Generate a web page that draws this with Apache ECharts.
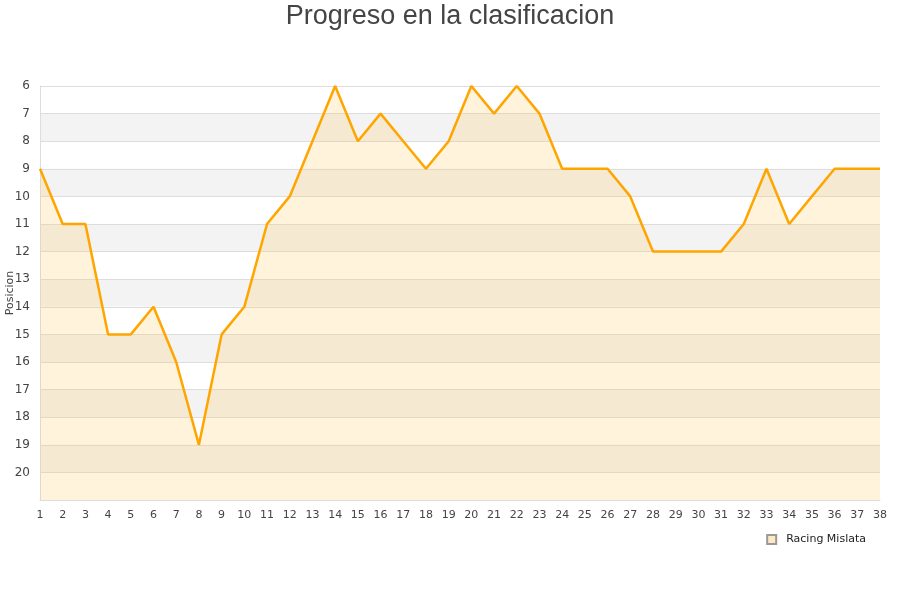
<!DOCTYPE html>
<html><head><meta charset="utf-8">
<script src="https://cdn.jsdelivr.net/npm/echarts@6/dist/echarts.min.js"></script>
<style>html,body{margin:0;padding:0;background:#fff}#c{width:900px;height:600px}</style>
</head><body><div id="c"></div>
<script>
var jornadas = [];
for (var i = 1; i <= 38; i++) jornadas.push(String(i));
var posiciones = [9,11,11,15,15,14,16,19,15,14,11,10,8,6,8,7,8,9,8,6,7,6,7,9,9,9,10,12,12,12,12,11,9,11,10,9,9,9];
var equipo = 'Racing Mislata';

var chart = echarts.init(document.getElementById('c'));
chart.setOption({
  animation: false,
  title: {text: 'Progreso en la clasificacion', left: 'center', top: -2,
    textStyle: {fontSize: 27, fontWeight: 'normal', color: '#444', fontFamily: 'Liberation Sans'}},
  grid: {left: 40, right: 20, top: 86, bottom: 100, containLabel: false, outerBoundsMode: 'none'},
  legend: {data: [equipo], right: 29, top: 529, itemWidth: 9, itemHeight: 9, icon: 'rect', itemGap: 10,
    textStyle: {fontSize: 11, color: '#222', fontFamily: 'DejaVu Sans', padding: [0, 0, 0, 5]}},
  xAxis: {type: 'category', data: jornadas, boundaryGap: false,
    axisLine: {lineStyle: {color: '#ddd'}}, axisTick: {show: false},
    axisLabel: {color: '#444', fontSize: 11, margin: 10, fontFamily: 'DejaVu Sans'}},
  yAxis: {type: 'value', inverse: true, min: 6, max: 21, interval: 1,
    name: 'Posicion', nameLocation: 'middle', nameGap: 24, nameRotate: 90, nameMoveOverlap: false,
    nameTextStyle: {fontSize: 11, color: '#444', fontFamily: 'DejaVu Sans'},
    axisLine: {show: true, lineStyle: {color: '#ddd'}}, axisTick: {show: false},
    axisLabel: {color: '#444', fontSize: 12, margin: 10, showMaxLabel: false, fontFamily: 'DejaVu Sans',
      formatter: function(v){ return v >= 21 ? '' : v; }},
    splitLine: {lineStyle: {color: '#ddd'}},
    splitArea: {show: true, areaStyle: {color: ['#ffffff', '#f3f3f3']}}},
  series: [{name: equipo, type: 'line', data: posiciones, symbol: 'none',
    lineStyle: {color: '#FFA500', width: 2.5}, itemStyle: {color: '#FFE9C4', borderColor: '#999', borderWidth: 1},
    areaStyle: {origin: 'end', color: 'rgba(255,198,85,0.3)'}}]
});
</script></body></html>
